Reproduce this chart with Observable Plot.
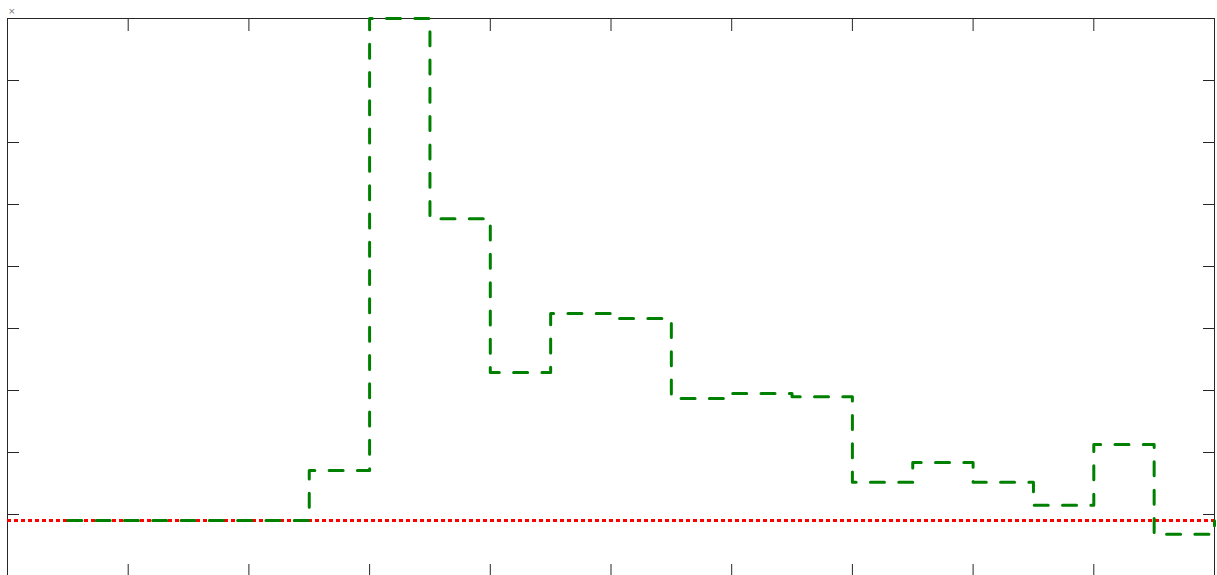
<!DOCTYPE html>
<html>
<head>
<meta charset="utf-8">
<script src="https://cdn.jsdelivr.net/npm/d3@7"></script>
<script src="https://cdn.jsdelivr.net/npm/@observablehq/plot@0.6"></script>
<style>
html, body { margin: 0; padding: 0; background: #fff; overflow: hidden; }
#chart { position: relative; width: 1217px; height: 575px; }
#exp { position: absolute; left: 8px; top: 6px; font: 9px "DejaVu Sans", sans-serif; color: #777; }
</style>
</head>
<body>
<div id="chart"><div id="exp">×</div></div>
<script>
const xs = [1,2,3,4,5,6,7,8,9,10,11,12,13,14,15,16,17,18,19,20];
const ys = [0.903,0.903,0.903,0.903,1.71,9.0,5.77,3.29,4.24,4.16,2.87,2.95,2.90,1.52,1.84,1.52,1.15,2.13,0.68,0.90];
const refLevel = [0.903];
const xTicks = [0,2,4,6,8,10,12,14,16,18,20];
const yTicks = [0,1,2,3,4,5,6,7,8,9];

const data = xs.map((x, i) => ({x, y: ys[i]}));
const axisColor = "#262626";
const noText = () => "";

const plot = Plot.plot({
  width: 1217,
  height: 577,
  marginLeft: 7,
  marginRight: 3,
  marginTop: 18,
  marginBottom: 1,
  x: {domain: [0, 20]},
  y: {domain: [0, 9]},
  style: {background: "white", overflow: "hidden"},
  marks: [
    Plot.frame({stroke: axisColor}),
    Plot.axisX({anchor: "bottom", ticks: xTicks, tickSize: -12, tickFormat: noText, label: null, stroke: axisColor}),
    Plot.axisX({anchor: "top", ticks: xTicks, tickSize: -12, tickFormat: noText, label: null, stroke: axisColor}),
    Plot.axisY({anchor: "left", ticks: yTicks, tickSize: -12, tickFormat: noText, label: null, stroke: axisColor}),
    Plot.axisY({anchor: "right", ticks: yTicks, tickSize: -12, tickFormat: noText, label: null, stroke: axisColor}),
    Plot.ruleY(refLevel, {stroke: "#ff0000", strokeWidth: 3, strokeDasharray: "4,3"}),
    Plot.line(data, {x: "x", y: "y", curve: "step-after", stroke: "#008000", strokeWidth: 3, strokeDasharray: "14,14.3"})
  ]
});
plot.style.position = "absolute";
plot.style.left = "0px";
plot.style.top = "0px";
document.getElementById("chart").prepend(plot);
</script>
</body>
</html>
